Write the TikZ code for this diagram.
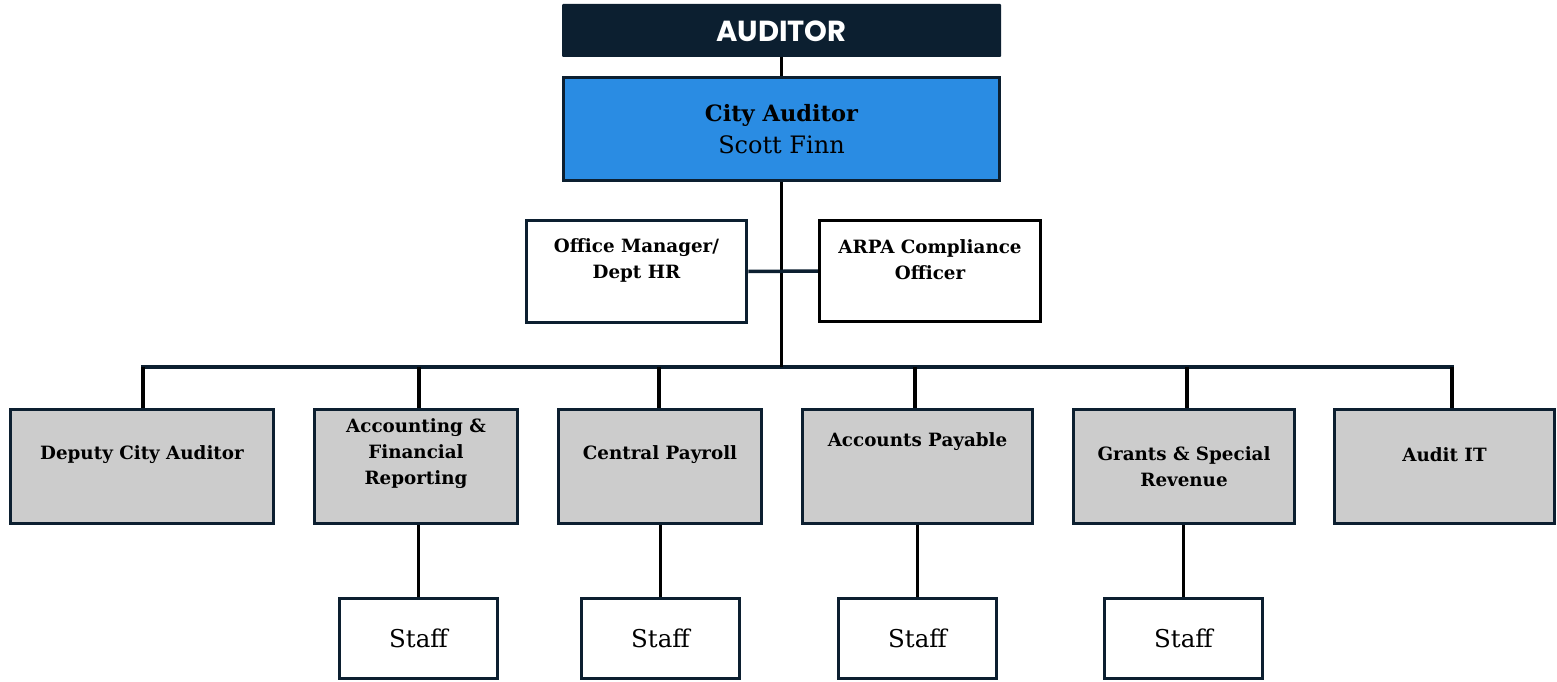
\documentclass[tikz,border=0pt]{standalone}
\usepackage{fontspec}
\setmainfont{DejaVu Serif}
\newfontfamily\headfont{Poppins}
\usepackage{tikz}
\usetikzlibrary{positioning}
\pgfdeclarelayer{nodelayer}
\pgfdeclarelayer{edgelayer}
\pgfsetlayers{nodelayer,edgelayer,main}
\definecolor{navy}{HTML}{0C1F30}
\definecolor{chiefblue}{HTML}{2A8CE3}
\definecolor{unitgray}{HTML}{CCCCCC}
\tikzset{
  box/.style={rectangle, draw=navy, line width=3.5pt, inner sep=0pt},
  unitbox/.style={box, fill=unitgray, minimum height=114pt},
  staffbox/.style={box, fill=white, minimum width=158pt, minimum height=80pt},
  unittext/.style={align=center, font=\fontsize{18.3}{26}\selectfont\bfseries},
  link/.style={draw=navy, line width=3.5pt}
}

\begin{document}
\begin{tikzpicture}[x=1pt, y=-1pt]
  \useasboundingbox (0,0) rectangle (1557,682);
  \begin{pgfonlayer}{nodelayer}
    \node [rectangle, fill=navy, rounded corners=1pt, minimum width=439pt, minimum height=53pt] (0) at (781.5, 30.5) {};
    \node [box, fill=chiefblue, minimum width=436pt, minimum height=103pt] (1) at (781.5, 129) {};
    \node [box, fill=white, minimum width=220pt, minimum height=102pt] (2) at (636.5, 271.5) {};
    \node [box, draw=black, fill=white, minimum width=221pt, minimum height=101pt] (3) at (930, 271) {};
    \node [unitbox, minimum width=263pt] (4) at (142, 466.5) {};
    \node [unitbox, minimum width=203pt] (5) at (416, 466.5) {};
    \node [unitbox, minimum width=203pt] (6) at (660, 466.5) {};
    \node [unitbox, minimum width=230pt] (7) at (917.5, 466.5) {};
    \node [unitbox, minimum width=221pt] (8) at (1184, 466.5) {};
    \node [unitbox, minimum width=220pt] (9) at (1444.5, 466.5) {};
    \node [staffbox] (10) at (418.5, 638.5) {};
    \node [staffbox] (11) at (660.5, 638.5) {};
    \node [staffbox] (12) at (917.5, 638.5) {};
    \node [staffbox] (13) at (1183.5, 638.5) {};
    % labels
    \node [text=white, font=\headfont\fontsize{29}{29}\selectfont\bfseries] (20) at (781.5, 31) {AUDITOR};
    \node [align=center, font=\fontsize{22.5}{32}\selectfont] (21) at (781.5, 129) {\textbf{City Auditor}\\{\fontsize{24}{32}\selectfont Scott Finn}};
    \node [unittext] (22) at (636.5, 260) {Office Manager/\\Dept HR};
    \node [unittext] (23) at (930, 260) {ARPA Compliance\\Officer};
    \node [unittext] (24) at (142, 455) {Deputy City Auditor};
    \node [unittext] (25) at (416, 454) {Accounting \&\\Financial\\Reporting};
    \node [unittext] (26) at (660, 455) {Central Payroll};
    \node [unittext] (27) at (917.5, 442) {Accounts Payable};
    \node [unittext] (28) at (1184, 467) {Grants \& Special\\Revenue};
    \node [unittext] (29) at (1444.5, 455) {Audit IT};
    \node [font=\fontsize{24.5}{24}\selectfont] (30) at (418.5, 638) {Staff};
    \node [font=\fontsize{24.5}{24}\selectfont] (31) at (660.5, 638) {Staff};
    \node [font=\fontsize{24.5}{24}\selectfont] (32) at (917.5, 638) {Staff};
    \node [font=\fontsize{24.5}{24}\selectfont] (33) at (1183.5, 638) {Staff};
  \end{pgfonlayer}
  \begin{pgfonlayer}{edgelayer}
    \coordinate (b4) at (143, 367);
    \coordinate (b5) at (419, 367);
    \coordinate (b6) at (659, 367);
    \coordinate (b7) at (915, 367);
    \coordinate (b8) at (1187, 367);
    \coordinate (b9) at (1452, 367);
    \draw [link, line cap=rect] (b4) -- (b9);
    \draw [link, draw=black] (0.south) -- (1.north);
    \draw [link, draw=black] (1.south) -- (1.south |- b4);
    \draw [link] (2.east) -- (3.west);
    \foreach \n in {4,...,9}
      \draw [link, draw=black] (b\n) -- (b\n |- \n.north);
    \draw [link, draw=black] (10.north |- 5.south) -- (10.north);
    \draw [link, draw=black] (11.north |- 6.south) -- (11.north);
    \draw [link, draw=black] (12.north |- 7.south) -- (12.north);
    \draw [link, draw=black] (13.north |- 8.south) -- (13.north);
  \end{pgfonlayer}
\end{tikzpicture}
\end{document}
